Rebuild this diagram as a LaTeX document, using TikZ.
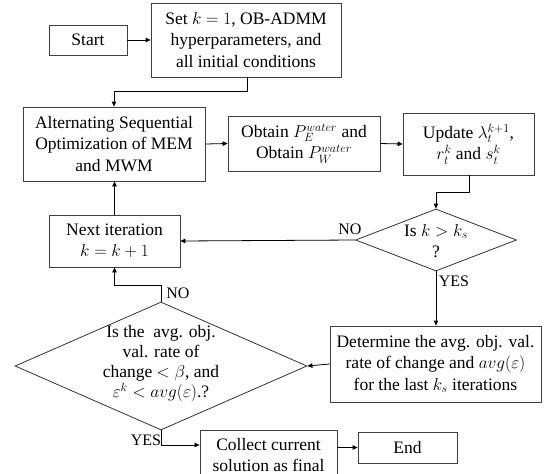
\documentclass[tikz,border=0pt]{standalone}
\usepackage{fontspec}
\setmainfont{Liberation Serif}
\usetikzlibrary{arrows.meta,shapes.geometric}
\begin{document}
\begin{tikzpicture}[x=1pt,y=-1pt,
  font=\fontsize{17.5}{21.5}\selectfont,
  box/.style={draw=black!75, line width=0.8pt, rectangle, align=center, inner sep=0pt},
  dia/.style={draw=black!80, line width=0.8pt, diamond, inner sep=0pt},
  txt/.style={align=center, inner sep=0pt},
  lbl/.style={inner sep=0pt, font=\fontsize{16}{18}\selectfont},
  conn/.style={line width=0.8pt, -{Triangle[length=5pt,width=4.5pt]}},
  plain/.style={line width=0.8pt}]
\useasboundingbox (0,0) rectangle (544,474);

\node[box, minimum width=78, minimum height=30] (start) at (88,40) {Start};
\node[box, minimum width=190, minimum height=74] (set) at (246,40)
  {Set $k=1$, OB-ADMM\\hyperparameters, and\\all initial conditions};
\node[box, minimum width=182, minimum height=74] (aso) at (114,144)
  {Alternating Sequential\\Optimization of MEM\\and MWM};
\node[box, minimum width=152, minimum height=55] (obt) at (304,143.5)
  {Obtain $P_E^{water}$ and\\Obtain $P_W^{water}$};
\node[box, minimum width=131, minimum height=62] (upd) at (468.5,144)
  {Update $\lambda_t^{k+1}$,\\$r_t^k$ and $s_t^k$};
\node[dia, minimum width=161, minimum height=62] (d1) at (436,240) {};
\node[txt] (d1t) at (436,241) {Is $k>k_s$\\?};
\node[box, minimum width=131, minimum height=52] (next) at (114.5,241)
  {Next iteration\\$k=k+1$};
\node[box, minimum width=211, minimum height=76] (det) at (435.5,364)
  {Determine the avg. obj. val.\\rate of change and $avg(\varepsilon)$\\for the last $k_s$ iterations};
\node[dia, minimum width=292, minimum height=128] (d2) at (161,366) {};
\node[txt, font=\fontsize{17.5}{20}\selectfont] (d2t) at (161,364)
  {Is the\ \ avg. obj.\\val. rate of\\change $<\beta$, and\\$\varepsilon^k<avg(\varepsilon)$.?};
\node[box, minimum width=137, minimum height=60, anchor=north] (col) at (268.5,430) {};
\node[txt] (colt) at (268.5,455) {Collect current\\solution as final};
\node[box, minimum width=99, minimum height=31] (end) at (407.5,447.5) {End};

\coordinate (c1) at (247,91);
\coordinate (c2) at (114,91);
\coordinate (c3) at (469,192);
\coordinate (c4) at (436,192);
\coordinate (c5) at (161,285);
\coordinate (c6) at (114.5,285);
\coordinate (c7) at (161,445);

\draw[conn] (start.east) -- (set.west);
\draw[conn] (set.south -| c1) -- (c1) -- (c2) -- (aso.north -| c2);
\draw[conn] (aso.east) -- (obt.west);
\draw[conn] (obt.east) -- (upd.west);
\draw[conn] (upd.south -| c3) -- (c3) -- (c4) -- (d1.north);
\draw[conn] (d1.west) -- (next.east);
\draw[conn] (next.north) -- (aso.south -| next.north);
\draw[conn] (d1.south) -- (det.north -| d1.south);
\draw[conn] (det.west) -- (d2.east);
\draw[conn] (d2.north) -- (c5) -- (c6) -- (next.south);
\draw[conn] (d2.south) -- (c7) -- (col.west |- c7);
\draw[conn] (col.east |- end.west) -- (end.west);

\node[lbl] (no1) at (350,229) {NO};
\node[lbl] (yes1) at (454,281) {YES};
\node[lbl] (no2) at (178,293) {NO};
\node[lbl] (yes2) at (146,440) {YES};
\end{tikzpicture}
\end{document}
